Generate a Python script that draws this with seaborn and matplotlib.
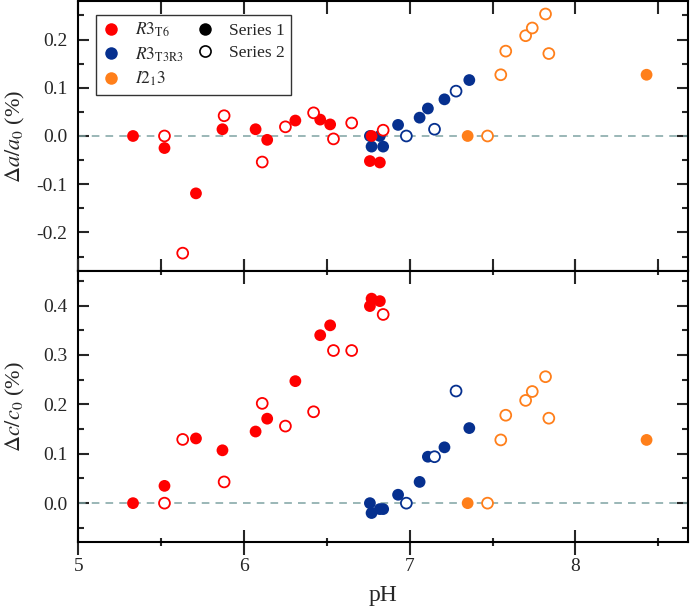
import numpy as np
import pandas as pd
import matplotlib
matplotlib.use("Agg")
import matplotlib.pyplot as plt
from matplotlib.lines import Line2D
from matplotlib.ticker import MultipleLocator
import seaborn as sns

# ---------------- data ----------------
# R3_T6 (red)
t6_f_ph = [5.33, 5.52, 5.71, 5.87, 6.07, 6.14, 6.31, 6.46, 6.52, 6.76, 6.77, 6.82]
t6_f_a = [0.0, -0.025, -0.119, 0.014, 0.014, -0.008, 0.032, 0.034, 0.024, -0.052, 0.0, -0.055]
t6_f_c = [0.0, 0.035, 0.131, 0.107, 0.145, 0.171, 0.247, 0.340, 0.360, 0.399, 0.414, 0.409]
t6_h_ph = [5.52, 5.63, 5.88, 6.11, 6.25, 6.42, 6.54, 6.65, 6.84]
t6_h_a = [0.0, -0.243, 0.042, -0.054, 0.019, 0.048, -0.006, 0.027, 0.012]
t6_h_c = [0.0, 0.129, 0.043, 0.202, 0.156, 0.185, 0.309, 0.309, 0.382]

# R3_T3R3 (blue)
t3_f_ph = [6.76, 6.77, 6.82, 6.84, 6.93, 7.06, 7.11, 7.21, 7.36]
t3_f_a = [0.0, -0.022, 0.0, -0.022, 0.023, 0.038, 0.057, 0.076, 0.116]
t3_f_c = [0.0, -0.020, -0.012, -0.012, 0.017, 0.043, 0.094, 0.113, 0.152]
t3_h_ph = [6.98, 7.15, 7.28]
t3_h_a = [0.0, 0.014, 0.093]
t3_h_c = [0.0, 0.094, 0.227]

# I2_13 (orange)
i2_f_ph = [7.35, 8.43]
i2_f_a = [0.0, 0.127]
i2_f_c = [0.0, 0.128]
i2_h_ph = [7.47, 7.55, 7.58, 7.70, 7.74, 7.82, 7.84]
i2_h_a = [0.0, 0.127, 0.176, 0.208, 0.224, 0.253, 0.171]
i2_h_c = [0.0, 0.128, 0.178, 0.208, 0.226, 0.256, 0.172]

phases = [r"$R3_{\mathrm{T6}}$", r"$R3_{\mathrm{T3R3}}$", r"$I2_{1}3$"]
series_names = ["Series 1", "Series 2"]
x_ticks = [5, 6, 7, 8]

colors = {phases[0]: "#ff0000", phases[1]: "#06308f", phases[2]: "#ff7f1a"}

rows = []
groups = [
    (phases[1], "Series 1", t3_f_ph, t3_f_a, t3_f_c),
    (phases[1], "Series 2", t3_h_ph, t3_h_a, t3_h_c),
    (phases[0], "Series 1", t6_f_ph, t6_f_a, t6_f_c),
    (phases[0], "Series 2", t6_h_ph, t6_h_a, t6_h_c),
    (phases[2], "Series 1", i2_f_ph, i2_f_a, i2_f_c),
    (phases[2], "Series 2", i2_h_ph, i2_h_a, i2_h_c),
]
for ph_name, ser, xs, av, cv in groups:
    for x, a, c in zip(xs, av, cv):
        rows.append(dict(pH=x, da=a, dc=c, phase=ph_name, series=ser))
df = pd.DataFrame(rows)

# ---------------- style ----------------
sns.set_style("ticks")
plt.rcParams["font.family"] = ["Liberation Serif", "DejaVu Serif"]
plt.rcParams["mathtext.fontset"] = "stix"
plt.rcParams["axes.linewidth"] = 1.5

fig = plt.figure(figsize=(6.92, 6.12), dpi=100)
ax1 = fig.add_axes([0.1132, 0.5572, 0.8810, 0.4412])
ax2 = fig.add_axes([0.1132, 0.1149, 0.8810, 0.4423], sharex=ax1)

dash_col = "#7fa3a3"
ms = 72

for ax, col in [(ax1, "da"), (ax2, "dc")]:
    ax.axhline(0, color=dash_col, lw=1.1, ls=(0, (5, 4)), zorder=1)
    for ph_name, ser, *_ in groups:
        sub = df[(df.phase == ph_name) & (df.series == ser)]
        before = len(ax.collections)
        sns.scatterplot(data=sub, x="pH", y=col, hue="phase", palette=colors,
                        s=ms, linewidth=0 if ser == "Series 1" else 1.3,
                        legend=False, ax=ax, zorder=3)
        coll = ax.collections[before]
        if ser == "Series 2":
            fc = coll.get_facecolors()
            coll.set_edgecolor(fc)
            coll.set_facecolor("white")
            coll.set_linewidth(1.3)
            coll.set_sizes([ms * 0.85])
    ax.set_xlim(5, 8.68)
    ax.xaxis.set_major_locator(MultipleLocator(1))
    ax.xaxis.set_minor_locator(MultipleLocator(0.5))
    ax.yaxis.set_major_locator(MultipleLocator(0.1))
    ax.yaxis.set_minor_locator(MultipleLocator(0.05))
    ax.tick_params(axis="y", which="both", direction="in", left=True, right=True,
                   labelsize=14, width=1.5, pad=8)
    ax.tick_params(axis="y", which="major", length=8)
    ax.tick_params(axis="y", which="minor", length=4)
    ax.set_xlabel("")

ax1.set_ylim(-0.28, 0.28)
ax2.set_ylim(-0.078, 0.47)

ax1.tick_params(axis="x", which="both", direction="in", top=True, bottom=True,
                labelbottom=False, width=1.5)
ax1.tick_params(axis="x", which="major", length=9)
ax1.tick_params(axis="x", which="minor", length=9)

ax2.tick_params(axis="x", which="both", direction="inout", top=True, bottom=True,
                labelsize=14, width=1.5, pad=3)
ax2.tick_params(axis="x", which="major", length=18)
ax2.tick_params(axis="x", which="minor", length=6)
ax2.set_xticks(x_ticks)
ax2.set_xticklabels([str(v) for v in x_ticks])

ax1.set_yticks([-0.2, -0.1, 0.0, 0.1, 0.2])
ax1.set_yticklabels(["-0.2", "-0.1", "0.0", "0.1", "0.2"])
ax2.set_yticks([0.0, 0.1, 0.2, 0.3, 0.4])
ax2.set_yticklabels(["0.0", "0.1", "0.2", "0.3", "0.4"])

ax1.set_ylabel(r"$\Delta a/a_0$ (%)", fontsize=16)
ax2.set_ylabel(r"$\Delta c/c_0$ (%)", fontsize=16)
ax1.yaxis.set_label_coords(-0.084, 0.5)
ax2.yaxis.set_label_coords(-0.084, 0.5)
ax2.set_xlabel("pH", fontsize=17)
ax2.xaxis.set_label_coords(0.5, -0.16)

for ax in (ax1, ax2):
    for sp in ax.spines.values():
        sp.set_visible(True)
        sp.set_linewidth(1.5)
        sp.set_color("black")

# ---------------- legend ----------------
handles = [
    Line2D([], [], ls="none", marker="o", ms=9, mfc=colors[phases[0]], mec="none"),
    Line2D([], [], ls="none", marker="o", ms=9, mfc=colors[phases[1]], mec="none"),
    Line2D([], [], ls="none", marker="o", ms=9, mfc=colors[phases[2]], mec="none"),
    Line2D([], [], ls="none", marker="o", ms=9, mfc="black", mec="none"),
    Line2D([], [], ls="none", marker="o", ms=8, mfc="white", mec="black", mew=1.2),
]
labels = phases + series_names
leg = ax1.legend(handles, labels, ncol=2, loc="upper left",
                 bbox_to_anchor=(0.029, 0.948), borderaxespad=0,
                 fontsize=12.5, frameon=True, fancybox=False, edgecolor="black",
                 handlelength=1.0, handletextpad=0.9, columnspacing=0.7,
                 labelspacing=0.35, borderpad=0.35)
leg.get_frame().set_linewidth(1.0)

fig.savefig("out.png", dpi=100)
